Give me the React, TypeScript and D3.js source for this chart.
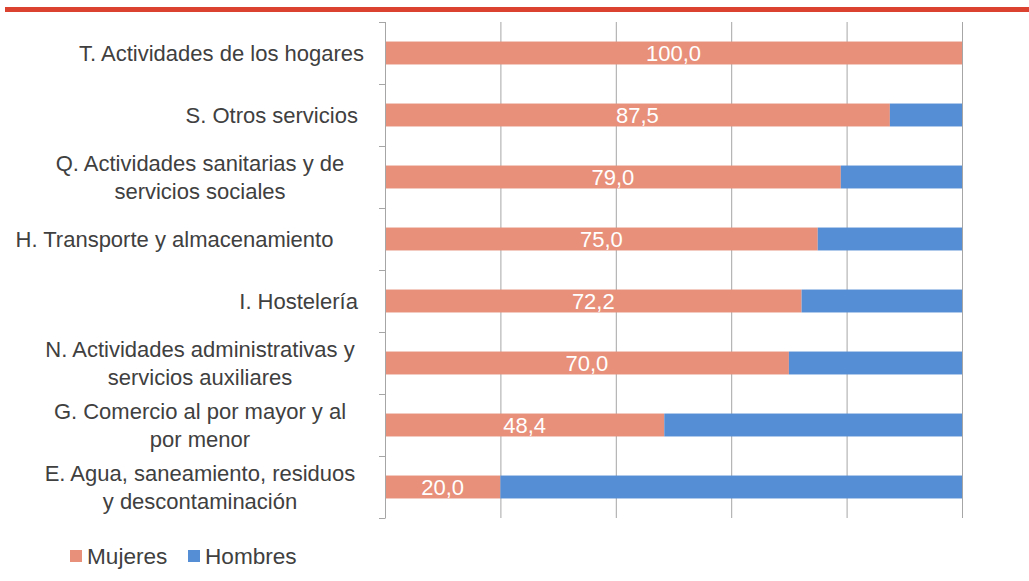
import { useEffect, useRef } from "react";
import * as d3 from "d3";

// categorías (de arriba abajo), cada una con sus líneas de texto
const categories = [
  ["T. Actividades de los hogares"],
  ["S. Otros servicios "],
  ["Q. Actividades sanitarias y de", "servicios sociales"],
  ["H. Transporte y almacenamiento     "],
  ["I. Hostelería "],
  ["N. Actividades administrativas y", "servicios auxiliares"],
  ["G. Comercio al por mayor y al", "por menor"],
  ["E. Agua, saneamiento, residuos", "y descontaminación"],
];
const mujeres = [100.0, 87.5, 79.0, 75.0, 72.2, 70.0, 48.4, 20.0];
const hombres = [0.0, 12.5, 21.0, 25.0, 27.8, 30.0, 51.6, 80.0];
const xTicks = [0, 20, 40, 60, 80, 100];
const seriesNames = ["Mujeres", "Hombres"];
const colors = ["#E8907A", "#558ED5"];

const App = () => {
  const ref = useRef<SVGSVGElement>(null);

  useEffect(() => {
    const svg = d3.select(ref.current);
    svg.selectAll("*").remove();

    const font = "'Liberation Sans', Arial, sans-serif";
    const ids = categories.map((_, i) => String(i));

    const x = d3.scaleLinear().domain([0, 100]).range([385, 962]);
    const y = d3.scaleBand().domain(ids).range([22, 518]).paddingInner(0.63).paddingOuter(0.315);
    const yb = d3.scaleBand().domain(ids).range([22, 518]);

    // línea roja superior
    svg.append("rect").attr("x", 5).attr("y", 7).attr("width", 1024).attr("height", 5).attr("fill", "#DB4230");

    // líneas de cuadrícula
    svg.append("g")
      .selectAll("line")
      .data(xTicks.slice(1))
      .enter()
      .append("line")
      .attr("x1", d => x(d) + 0.5)
      .attr("x2", d => x(d) + 0.5)
      .attr("y1", 22)
      .attr("y2", 518)
      .attr("stroke", "#A6A6A6")
      .attr("stroke-width", 1);

    // barras apiladas
    const stack = categories.map((_, i) => [mujeres[i], hombres[i]]);
    [0, 1].forEach(s => {
      svg.append("g")
        .selectAll("rect")
        .data(stack)
        .enter()
        .append("rect")
        .attr("x", d => x(s === 0 ? 0 : d[0]))
        .attr("y", (_, i) => y(String(i)))
        .attr("width", d => x(s === 0 ? d[0] : d[0] + d[1]) - x(s === 0 ? 0 : d[0]))
        .attr("height", y.bandwidth())
        .attr("fill", colors[s]);
    });

    // etiquetas de datos
    svg.append("g")
      .selectAll("text")
      .data(mujeres)
      .enter()
      .append("text")
      .attr("x", d => (x(0) + x(d)) / 2)
      .attr("y", (_, i) => y(String(i)) + y.bandwidth() / 2)
      .attr("dy", "0.36em")
      .attr("text-anchor", "middle")
      .attr("fill", "#FFFFFF")
      .attr("font-family", font)
      .attr("font-size", 22)
      .text(d => d.toFixed(1).replace(".", ","));

    // eje vertical con marcas
    const axis = svg.append("g").attr("stroke", "#A6A6A6").attr("stroke-width", 1);
    axis.append("line").attr("x1", 385.5).attr("x2", 385.5).attr("y1", 22).attr("y2", 518);
    const bounds = ids.map(id => yb(id)).concat([518]);
    axis.selectAll(".tick")
      .data(bounds)
      .enter()
      .append("line")
      .attr("x1", 379)
      .attr("x2", 385.5)
      .attr("y1", d => d + 0.5)
      .attr("y2", d => d + 0.5);

    // etiquetas de categorías: una línea alineada a la derecha, varias centradas
    const labels = svg.append("g")
      .attr("font-family", font)
      .attr("font-size", 22)
      .attr("fill", "#404040");
    categories.forEach((lines, i) => {
      const cy = yb(String(i)) + yb.bandwidth() / 2;
      const multi = lines.length > 1;
      const lx = multi ? 200 : 364;
      const t = labels.append("text")
        .attr("xml:space", "preserve")
        .attr("x", lx)
        .attr("y", cy)
        .attr("text-anchor", multi ? "middle" : "end");
      lines.forEach((line, j) => {
        t.append("tspan")
          .attr("x", lx)
          .attr("y", cy + (j - (lines.length - 1) / 2) * 27.5)
          .attr("dy", "0.36em")
          .text(line);
      });
    });

    // leyenda
    const legend = svg.append("g").attr("font-family", font).attr("font-size", 22.6).attr("fill", "#404040");
    const lx = [70, 188];
    seriesNames.forEach((name, i) => {
      legend.append("rect").attr("x", lx[i]).attr("y", 550).attr("width", 12).attr("height", 12).attr("fill", colors[i]);
      legend.append("text").attr("x", lx[i] + 17).attr("y", 564).text(name);
    });
  }, []);

  return (
    <svg
      ref={ref}
      width={1029}
      height={581}
      style={{ position: "absolute", left: 0, top: 0, background: "#FFFFFF" }}
    />
  );
};

export default App;
